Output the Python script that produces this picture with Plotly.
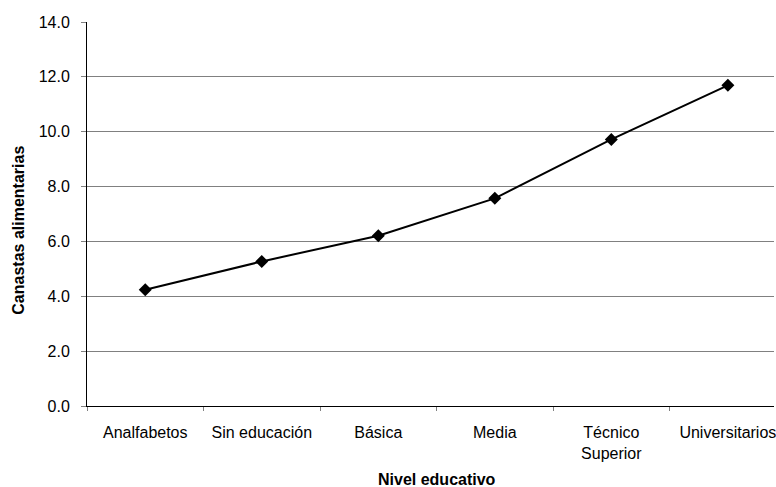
import plotly.graph_objects as go

# Canastas alimentarias por nivel educativo
categorias = ["Analfabetos", "Sin educación", "Básica", "Media", "Técnico<br>Superior", "Universitarios"]
canastas = [4.24, 5.27, 6.21, 7.57, 9.72, 11.69]

W, H = 776, 487
L, T, B, R = 87, 22, 81, 0
font = "Liberation Sans, Arial, sans-serif"

fig = go.Figure()
fig.add_trace(go.Scatter(
    x=categorias, y=canastas,
    mode="lines+markers",
    line=dict(color="black", width=2),
    marker=dict(symbol="diamond", size=10, color="black"),
    showlegend=False,
    cliponaxis=False,
))

# category spacing ~116.9 px; the axis runs past the right edge of the page
step = 116.86
x_right = -0.5 + (W - L) / step
x_center_px = L + 3 * step  # middle of the full six-category axis

fig.update_layout(
    width=W, height=H,
    margin=dict(l=L, r=R, t=T, b=B),
    paper_bgcolor="white", plot_bgcolor="white",
    font=dict(family=font, size=16, color="black"),
    xaxis=dict(
        type="category",
        range=[-0.5, x_right],
        showline=True, linecolor="black", linewidth=1,
        ticks="outside", tickson="boundaries", ticklen=4, tickcolor="#808080",
        showgrid=False, zeroline=False,
        ticklabelstandoff=12,
        tickfont=dict(size=16),
    ),
    yaxis=dict(
        range=[0, 14], dtick=2, tickformat=".1f",
        showline=True, linecolor="black", linewidth=1,
        ticks="outside", ticklen=5, tickcolor="#808080",
        showgrid=True, gridcolor="#808080", gridwidth=1,
        zeroline=False,
        ticklabelstandoff=8,
        tickfont=dict(size=16),
    ),
    annotations=[
        dict(text="<b>Nivel educativo</b>", xref="paper", yref="paper",
             x=(x_center_px - L) / (W - L), y=(H - B - 479) / (H - B - T),
             xanchor="center", yanchor="middle", showarrow=False,
             font=dict(size=16, family=font)),
        dict(text="<b>Canastas alimentarias</b>", xref="paper", yref="paper",
             x=(17.5 - L) / (W - L), y=(H - B - 230) / (H - B - T),
             xanchor="center", yanchor="middle", showarrow=False, textangle=-90,
             font=dict(size=16, family=font)),
    ],
)

fig.write_html("out.html")
